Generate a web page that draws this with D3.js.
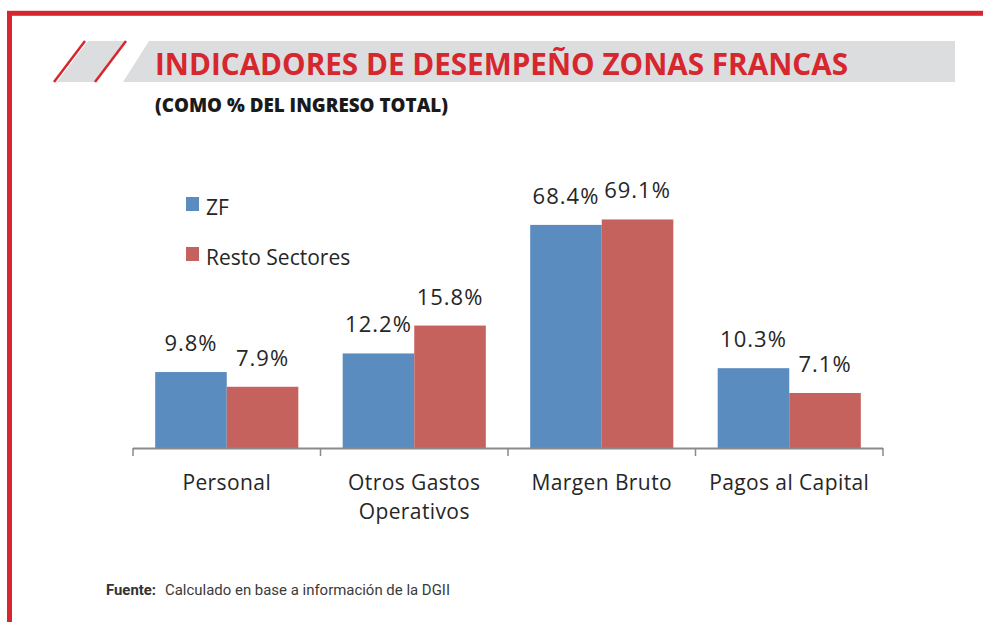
<!DOCTYPE html>
<html>
<head>
<meta charset="utf-8">
<script src="https://cdn.jsdelivr.net/npm/d3@7"></script>
<style>
  html, body { margin: 0; padding: 0; background: #fff; }
  svg { display: block; }
</style>
</head>
<body>
<svg id="chart" width="983" height="622"></svg>
<script>
// ---- Data ----
const categories = ["Personal", "Otros Gastos Operativos", "Margen Bruto", "Pagos al Capital"];
const categoryLines = [["Personal"], ["Otros Gastos", "Operativos"], ["Margen Bruto"], ["Pagos al Capital"]];
const seriesNames = ["ZF", "Resto Sectores"];
const zfValues = [9.8, 12.2, 68.4, 10.3];
const restoValues = [7.9, 15.8, 69.1, 7.1];
const titleText = "INDICADORES DE DESEMPEÑO ZONAS FRANCAS";
const subtitleText = "(COMO % DEL INGRESO TOTAL)";
const sourceLabel = "Fuente:";
const sourceText = "Calculado en base a información de la DGII";

const colors = ["#5b8cc0", "#c5625d"];
const RED = "#d6262e";

const svg = d3.select("#chart");

// ---- Frame ----
svg.append("rect")
  .attr("x", 9.5).attr("y", 13.3)
  .attr("width", 1100).attr("height", 800)
  .attr("fill", "none").attr("stroke", RED).attr("stroke-width", 5);

// ---- Header decoration ----
svg.append("polygon")
  .attr("points", "57,82 88,41 126,41 95,82")
  .attr("fill", "#dcdddf");
svg.append("line").attr("x1", 54).attr("y1", 82).attr("x2", 85).attr("y2", 41)
  .attr("stroke", RED).attr("stroke-width", 2.5);
svg.append("line").attr("x1", 95).attr("y1", 82).attr("x2", 126).attr("y2", 41)
  .attr("stroke", RED).attr("stroke-width", 2.5);
svg.append("polygon")
  .attr("points", "123,82 149,41 955,41 955,82")
  .attr("fill", "#dcdddf");

svg.append("text")
  .attr("x", 155).attr("y", 75)
  .attr("font-family", "'Open Sans', sans-serif")
  .attr("font-weight", 700)
  .attr("font-size", 31)
  .attr("fill", RED)
  .attr("textLength", 693)
  .attr("lengthAdjust", "spacingAndGlyphs")
  .text(titleText);

svg.append("text")
  .attr("x", 155).attr("y", 112)
  .attr("font-family", "'Open Sans', sans-serif")
  .attr("font-weight", 800)
  .attr("font-size", 19.5)
  .attr("fill", "#1a1a1a")
  .attr("textLength", 293)
  .attr("lengthAdjust", "spacingAndGlyphs")
  .text(subtitleText);

// ---- Scales ----
const baseY = 448;
const x = d3.scaleBand().domain(categories).range([133, 883]).paddingInner(0).paddingOuter(0);
const x1 = d3.scaleBand().domain(seriesNames).range([0, x.bandwidth()]).paddingInner(0).paddingOuter(0.31);
// Broken value axis (the reference compresses the 20–60 span)
const y = d3.scaleLinear().domain([0, 20, 60, 70]).range([baseY, 293, 290, 212.5]);

const rows = categories.map((c, i) => ({ cat: c, vals: [zfValues[i], restoValues[i]] }));

const groups = svg.append("g").selectAll("g").data(rows).join("g")
  .attr("transform", d => `translate(${x(d.cat)},0)`);

groups.selectAll("rect").data(d => d.vals.map((v, j) => ({ v, s: seriesNames[j], j })))
  .join("rect")
  .attr("x", d => x1(d.s))
  .attr("y", d => y(d.v))
  .attr("width", x1.bandwidth())
  .attr("height", d => baseY - y(d.v))
  .attr("fill", d => colors[d.j]);

groups.selectAll("text.val").data(d => d.vals.map((v, j) => ({ v, s: seriesNames[j], j })))
  .join("text")
  .attr("class", "val")
  .attr("x", d => x1(d.s) + x1.bandwidth() / 2)
  .attr("y", d => y(d.v) - 21)
  .attr("text-anchor", "middle")
  .attr("font-family", "'Open Sans', sans-serif")
  .attr("font-size", 22)
  .attr("letter-spacing", 1)
  .attr("fill", "#262626")
  .text(d => d3.format(".1f")(d.v) + "%");

// ---- Axis ----
const axisG = svg.append("g");
axisG.append("line")
  .attr("x1", x.range()[0]).attr("x2", x.range()[1])
  .attr("y1", baseY + 0.5).attr("y2", baseY + 0.5)
  .attr("stroke", "#8a8a8a").attr("stroke-width", 2);
const tickXs = categories.map(c => x(c)).concat([x.range()[1]]);
axisG.selectAll("line.tick").data(tickXs).join("line")
  .attr("class", "tick")
  .attr("x1", d => d).attr("x2", d => d)
  .attr("y1", baseY).attr("y2", baseY + 8)
  .attr("stroke", "#8a8a8a").attr("stroke-width", 1.5);

const catText = axisG.selectAll("text.cat").data(categories).join("text")
  .attr("class", "cat")
  .attr("text-anchor", "middle")
  .attr("font-family", "'Open Sans', sans-serif")
  .attr("font-size", 21)
  .attr("letter-spacing", 0.4)
  .attr("fill", "#262626");
catText.each(function(c, i) {
  const t = d3.select(this);
  categoryLines[i].forEach((line, k) => {
    t.append("tspan")
      .attr("x", x(c) + x.bandwidth() / 2)
      .attr("y", 490 + k * 29)
      .text(line);
  });
});

// ---- Legend ----
const legend = svg.append("g").selectAll("g").data(seriesNames).join("g")
  .attr("transform", (d, i) => `translate(186,${197 + i * 50})`);
legend.append("rect")
  .attr("width", 13).attr("height", 14)
  .attr("fill", (d, i) => colors[i]);
legend.append("text")
  .attr("x", 20).attr("y", 18)
  .attr("font-family", "'Open Sans', sans-serif")
  .attr("font-size", 21)
  .attr("fill", "#262626")
  .text(d => d);

// ---- Source ----
svg.append("text")
  .attr("x", 106).attr("y", 595)
  .attr("font-family", "Roboto, sans-serif")
  .attr("font-weight", 700)
  .attr("font-size", 14)
  .attr("fill", "#333")
  .attr("textLength", 50)
  .attr("lengthAdjust", "spacingAndGlyphs")
  .text(sourceLabel);
svg.append("text")
  .attr("x", 165).attr("y", 595)
  .attr("font-family", "Roboto, sans-serif")
  .attr("font-size", 14)
  .attr("fill", "#3a3a3a")
  .attr("textLength", 285)
  .attr("lengthAdjust", "spacingAndGlyphs")
  .text(sourceText);
</script>
</body>
</html>
